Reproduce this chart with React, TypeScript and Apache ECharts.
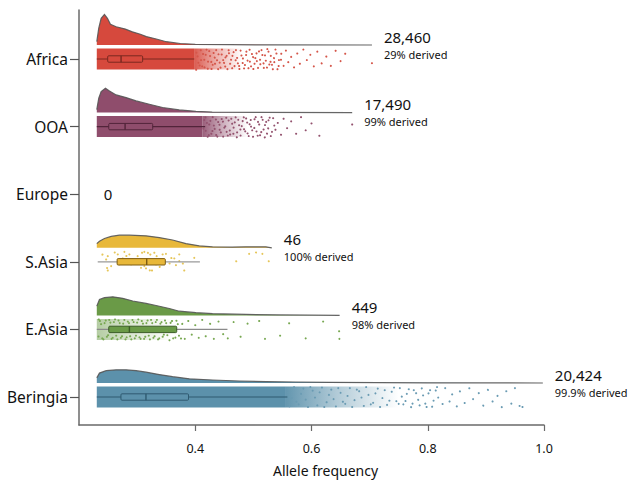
import React, { useEffect, useRef } from "react";
import * as echarts from "echarts";

// ---------- data ----------
const GROUP_NAMES = ["", "Beringia", "E.Asia", "S.Asia", "Europe", "OOA", "Africa"]; // index = y position
const Y_TICKS = [1, 2, 3, 4, 5, 6];
const X_TICKS = [0.4, 0.6, 0.8, 1.0];

const COUNTS = { africa: "28,460", ooa: "17,490", europe: "0", sasia: "46", easia: "449", beringia: "20,424" };
const DERIVED = { africa: "29% derived", ooa: "99% derived", sasia: "100% derived", easia: "98% derived", beringia: "99.9% derived" };

// box: [whisker low, Q1, median, Q3, whisker high]
const AFRICA_BOX = [0.2306, 0.2494, 0.2724, 0.3095, 0.3983];
const OOA_BOX = [0.2306, 0.2512, 0.2793, 0.3268, 0.417];
const SASIA_BOX = [0.2322, 0.2656, 0.3165, 0.3485, 0.408];
const EASIA_BOX = [0.2306, 0.2512, 0.2867, 0.3681, 0.4554];
const BERINGIA_BOX = [0.2306, 0.2722, 0.3152, 0.3884, 0.5585];

// density profiles [allele frequency, density]
const AFRICA_DENSITY = [[0.2306, 1.1], [0.234, 5.6], [0.2381, 8.9], [0.2438, 10.2], [0.2489, 8.9], [0.2541, 6.9], [0.2639, 6.1], [0.2798, 5.3], [0.2918, 4.4], [0.3056, 3.6], [0.3159, 2.8], [0.333, 2.0], [0.3502, 1.1], [0.3742, 0.5], [0.4, 0.23], [0.46, 0.1], [0.546, 0.03], [0.704, 0]];
const OOA_DENSITY = [[0.2306, 1.0], [0.234, 4.8], [0.2381, 7.0], [0.2455, 8.1], [0.2524, 7.2], [0.2639, 5.9], [0.281, 5.0], [0.2982, 3.9], [0.321, 2.8], [0.3439, 1.7], [0.3725, 0.9], [0.4012, 0.43], [0.4292, 0.17], [0.5116, 0.05], [0.67, 0]];
const SASIA_DENSITY = [[0.2306, 1.4], [0.2352, 2.2], [0.2438, 3.1], [0.2553, 3.8], [0.2695, 4.2], [0.2867, 4.2], [0.3154, 4.0], [0.3382, 3.4], [0.361, 2.6], [0.384, 1.4], [0.4069, 0.67], [0.4297, 0.33], [0.4635, 0.23], [0.487, 0.33], [0.5214, 0.33], [0.5317, 0]];
const EASIA_DENSITY = [[0.2306, 3.1], [0.2352, 5.3], [0.2438, 5.9], [0.2582, 6.2], [0.2753, 5.7], [0.2925, 4.8], [0.3154, 4.0], [0.3326, 3.3], [0.3554, 2.3], [0.3725, 1.4], [0.4012, 0.9], [0.4297, 0.57], [0.487, 0.33], [0.5442, 0.17], [0.6484, 0]];
const BERINGIA_DENSITY = [[0.2306, 1.7], [0.2352, 3.3], [0.2467, 4.1], [0.2639, 4.4], [0.281, 4.4], [0.2982, 4.1], [0.3154, 3.6], [0.3382, 2.8], [0.361, 2.1], [0.3899, 1.4], [0.4297, 1.0], [0.4755, 0.67], [0.5214, 0.43], [0.5729, 0.33], [0.63, 0.23], [0.7159, 0.11], [0.8, 0.06], [0.9, 0.03], [0.998, 0]];

// jitter cloud: [start, end of solid cloud, end of dense fade]
const AFRICA_CLOUD = [0.2306, 0.398, 0.48];
const OOA_CLOUD = [0.2306, 0.4126, 0.49];
const SASIA_CLOUD = [0.2306, 0.2306, 0.2306];
const EASIA_CLOUD = [0.2306, 0.2306, 0.36];
const BERINGIA_CLOUD = [0.2306, 0.556, 0.75];

// sparse points [allele frequency, jitter (-1 top .. 1 bottom)]
const AFRICA_POINTS = [[0.402, -0.6], [0.405, 0.3], [0.409, -0.9], [0.412, 0.7], [0.415, 0.0], [0.418, -0.4], [0.421, 0.85], [0.424, -0.75], [0.427, 0.2], [0.43, 0.55], [0.433, -0.2], [0.436, -0.85], [0.439, 0.9], [0.442, 0.35], [0.445, -0.5], [0.448, 0.1], [0.451, 0.65], [0.454, -0.3], [0.457, -0.9], [0.46, 0.45], [0.463, 0.8], [0.466, -0.65], [0.469, 0.05], [0.472, -0.1], [0.475, 0.6], [0.478, -0.8], [0.481, 0.3], [0.484, 0.9], [0.487, -0.45], [0.49, 0.15], [0.493, -0.95], [0.496, 0.7], [0.499, -0.25], [0.502, 0.45], [0.505, -0.6], [0.508, 0.85], [0.511, 0.0], [0.514, -0.85], [0.517, 0.35], [0.52, -0.35], [0.523, 0.75], [0.526, -0.7], [0.529, 0.2], [0.532, 0.55], [0.535, -0.15], [0.538, -0.9], [0.541, 0.9], [0.544, 0.1], [0.548, -0.5], [0.552, 0.65], [0.556, -0.8], [0.56, 0.3], [0.565, -0.2], [0.57, 0.8], [0.575, -0.6], [0.58, 0.45], [0.586, -0.9], [0.592, 0.1], [0.598, -0.4], [0.604, 0.7], [0.61, -0.7], [0.617, 0.35], [0.625, -0.3], [0.633, 0.6], [0.641, -0.85], [0.65, 0.2], [0.658, -0.5], [0.704, 0.4],
  [0.401, 0.95], [0.404, -0.25], [0.407, 0.55], [0.41, 0.1], [0.413, -0.55], [0.416, 0.8], [0.419, -0.95], [0.422, 0.25], [0.425, -0.35], [0.428, 0.95], [0.431, -0.65], [0.434, 0.45], [0.437, 0.05], [0.44, -0.45], [0.443, 0.75], [0.446, -0.9], [0.449, 0.3], [0.452, -0.15], [0.455, 0.9], [0.458, -0.55], [0.461, 0.0], [0.464, -0.3], [0.467, 0.6], [0.47, -0.85], [0.473, 0.35], [0.476, 0.95], [0.479, -0.4], [0.482, -0.05], [0.485, 0.5], [0.488, -0.7], [0.491, 0.8], [0.494, 0.25], [0.497, -0.55], [0.5, 0.95], [0.503, -0.15], [0.506, 0.2], [0.509, -0.8], [0.512, 0.5], [0.515, -0.45], [0.518, 0.85], [0.521, 0.1], [0.524, -0.95], [0.527, 0.45], [0.53, -0.3], [0.533, 0.9], [0.536, 0.3], [0.539, -0.6], [0.543, 0.6], [0.547, 0.0]];
const OOA_POINTS = [[0.415, -0.7], [0.418, 0.4], [0.421, 0.9], [0.424, -0.2], [0.427, 0.6], [0.43, -0.9], [0.433, 0.15], [0.436, 0.8], [0.439, -0.5], [0.442, 0.3], [0.445, -0.8], [0.448, 0.95], [0.451, -0.1], [0.454, 0.5], [0.457, -0.65], [0.46, 0.75], [0.463, -0.35], [0.466, 0.1], [0.469, -0.95], [0.472, 0.55], [0.475, -0.2], [0.478, 0.85], [0.481, -0.6], [0.484, 0.25], [0.487, -0.85], [0.49, 0.65], [0.493, -0.3], [0.496, 0.0], [0.499, 0.9], [0.502, -0.7], [0.505, 0.4], [0.508, -0.45], [0.511, 0.75], [0.514, -0.9], [0.517, 0.2], [0.52, -0.15], [0.523, 0.6], [0.526, -0.6], [0.53, 0.9], [0.534, -0.8], [0.538, 0.3], [0.542, -0.35], [0.547, 0.7], [0.552, -0.75], [0.558, 0.15], [0.565, -0.5], [0.573, 0.6], [0.582, -0.9], [0.59, 0.35], [0.6, -0.3], [0.613, 0.8], [0.67, -0.2],
  [0.414, 0.2], [0.417, -0.95], [0.42, -0.35], [0.423, 0.75], [0.426, -0.55], [0.429, 0.35], [0.432, -0.1], [0.435, -0.75], [0.438, 0.95], [0.441, -0.25], [0.444, 0.55], [0.447, -0.55], [0.45, 0.1], [0.453, -0.9], [0.456, 0.85], [0.459, 0.3], [0.462, -0.75], [0.465, 0.6], [0.468, -0.4], [0.471, 0.95], [0.474, -0.65], [0.477, 0.2], [0.48, -0.05], [0.483, -0.95], [0.486, 0.45], [0.489, -0.45], [0.492, 0.9], [0.495, -0.7], [0.498, 0.35], [0.501, 0.05], [0.504, -0.9], [0.507, 0.8], [0.51, -0.2], [0.513, 0.45], [0.516, -0.65], [0.519, 0.95], [0.522, -0.45], [0.525, 0.1], [0.528, -0.85], [0.532, 0.5], [0.536, -0.1]];
const SASIA_POINTS = [[0.2398, -0.76], [0.2478, 0.51], [0.2495, 0.83], [0.261, -0.95], [0.2667, -0.7], [0.2781, -0.95], [0.281, -0.63], [0.2867, -0.7], [0.3085, -0.86], [0.3124, -0.95], [0.3182, -0.92], [0.3222, -0.76], [0.3296, -0.86], [0.3336, -0.54], [0.3439, -0.7], [0.3496, -0.76], [0.3582, -0.44], [0.364, -0.32], [0.3725, -0.06], [0.3782, 0.1], [0.3153, 0.63], [0.321, 0.73], [0.3256, 0.83], [0.3382, 0.41], [0.3668, 0.32], [0.3811, 0.83], [0.3124, 0.41], [0.2495, -0.54], [0.2467, -0.22], [0.2553, 0.41], [0.2752, -0.32], [0.2924, -0.22], [0.2896, 0.25], [0.3067, 0.57], [0.3325, 0.25], [0.3439, -0.22], [0.3554, 0.1], [0.3983, -0.38], [0.4698, -0.13], [0.4927, -0.76], [0.5042, -0.95], [0.5155, -0.76], [0.5258, -0.13], [0.3725, -0.7], [0.2695, 0.25], [0.3009, -0.54]];
const EASIA_POINTS = [[0.236, -0.8], [0.24, 0.85], [0.244, -0.6], [0.248, 0.7], [0.252, -0.9], [0.256, 0.9], [0.26, -0.7], [0.264, 0.6], [0.268, -0.85], [0.272, 0.8], [0.276, -0.55], [0.28, 0.95], [0.284, -0.75], [0.288, 0.65], [0.292, -0.9], [0.296, 0.85], [0.3, -0.65], [0.304, 0.75], [0.308, -0.8], [0.312, 0.9], [0.316, -0.6], [0.32, 0.6], [0.324, -0.9], [0.328, 0.8], [0.332, -0.7], [0.336, 0.95], [0.34, -0.55], [0.344, 0.7], [0.348, -0.85], [0.352, 0.55], [0.357, -0.7], [0.362, 0.85], [0.367, -0.9], [0.372, 0.6], [0.377, -0.6], [0.382, 0.9], [0.388, -0.8], [0.394, 0.5], [0.4, -0.4], [0.406, 0.8], [0.412, -0.9], [0.418, 0.65], [0.425, -0.6], [0.432, 0.9], [0.44, -0.75], [0.448, 0.45], [0.456, 0.85], [0.466, -0.7], [0.478, 0.7], [0.49, -0.55], [0.51, -0.8], [0.52, 0.9], [0.546, 0.6], [0.561, -0.65], [0.59, 0.85], [0.62, -0.75], [0.647, 0.1], [0.648, 0.9],
  [0.233, 0.6], [0.234, -0.95], [0.238, -0.5], [0.242, 0.95], [0.246, -0.85], [0.25, 0.55], [0.254, -0.65], [0.258, 0.8], [0.262, -0.95], [0.266, 0.95], [0.27, -0.6], [0.274, 0.65], [0.278, -0.9], [0.282, 0.75], [0.286, -0.6], [0.29, 0.95], [0.294, -0.7], [0.298, 0.6], [0.302, -0.95], [0.306, 0.9], [0.31, -0.55], [0.314, 0.7], [0.318, -0.85], [0.322, 0.95], [0.326, -0.6], [0.33, 0.65], [0.334, -0.9], [0.338, 0.85], [0.342, -0.7], [0.346, 0.5], [0.35, -0.6], [0.355, 0.95], [0.36, -0.8], [0.365, 0.7], [0.37, -0.5], [0.375, 0.8]];
const BERINGIA_POINTS = [[0.562, 0.9], [0.57, -0.95], [0.578, 0.7], [0.586, -0.8], [0.594, 0.95], [0.602, -0.6], [0.61, 0.8], [0.618, -0.9], [0.626, 0.5], [0.634, -0.7], [0.642, 0.9], [0.65, -0.4], [0.658, 0.65], [0.666, -0.85], [0.674, 0.3], [0.682, -0.55], [0.69, 0.85], [0.698, -0.2], [0.706, 0.55], [0.714, -0.8], [0.722, 0.1], [0.73, 0.75], [0.738, -0.5], [0.746, 0.4], [0.752, -0.85], [0.758, 0.7], [0.764, -0.3], [0.771, 0.9], [0.776, -0.65], [0.783, 0.2], [0.789, -0.9], [0.795, 0.55], [0.801, -0.4], [0.807, 0.85], [0.813, -0.7], [0.818, 0.05], [0.825, 0.6], [0.83, -0.85], [0.837, 0.35], [0.842, -0.25], [0.849, 0.8], [0.855, -0.6], [0.863, 0.5], [0.871, -0.9], [0.878, 0.2], [0.887, -0.45], [0.895, 0.75], [0.903, -0.75], [0.911, 0.35], [0.919, -0.2], [0.927, 0.9], [0.935, -0.6], [0.943, 0.55], [0.95, -0.85], [0.958, 0.85], [0.963, 0.95],
  [0.566, 0.1], [0.574, 0.45], [0.582, -0.3], [0.59, 0.25], [0.598, -0.95], [0.606, 0.05], [0.614, -0.45], [0.622, 0.95], [0.63, -0.2], [0.638, 0.2], [0.646, -0.85], [0.654, 0.45], [0.662, -0.1], [0.67, 0.95], [0.678, -0.7], [0.686, 0.05], [0.694, -0.95], [0.702, 0.7], [0.71, -0.35], [0.718, 0.95], [0.726, -0.65], [0.734, 0.35], [0.742, -0.9], [0.75, 0.65], [0.755, -0.1], [0.761, 0.3], [0.767, -0.8], [0.773, 0.55], [0.779, -0.45], [0.786, 0.8], [0.792, -0.15], [0.798, 0.95], [0.804, -0.65], [0.81, 0.35], [0.816, -0.95]];

// ---------- styles ----------
const FONT = '"Noto Sans", "Open Sans", sans-serif';
const DENSITY_PX = 3;
const BASE_GAP_PX = 14;
const BAND_HALF_PX = 10.5;
const BOX_HALF_PX = 3.2;
const LABEL_DX = 12;

type G = {
  y: number; rgb: number[]; dark: string; point: string; whisker: string;
  box: number[]; density: number[][]; cloud: number[]; fade0: number; points: number[][];
  count: string; derived: string;
};

const GROUPS: G[] = [
  { y: 6, rgb: [214, 73, 61], dark: "#7a2820", point: "#d5564a", whisker: "#7a2820", box: AFRICA_BOX, density: AFRICA_DENSITY, cloud: AFRICA_CLOUD, fade0: 0.9, points: AFRICA_POINTS, count: COUNTS.africa, derived: DERIVED.africa },
  { y: 5, rgb: [143, 77, 108], dark: "#52243a", point: "#93526e", whisker: "#52243a", box: OOA_BOX, density: OOA_DENSITY, cloud: OOA_CLOUD, fade0: 0.9, points: OOA_POINTS, count: COUNTS.ooa, derived: DERIVED.ooa },
  { y: 3, rgb: [232, 184, 58], dark: "#7d5c12", point: "#e6c65a", whisker: "#9a9a9a", box: SASIA_BOX, density: SASIA_DENSITY, cloud: SASIA_CLOUD, fade0: 0, points: SASIA_POINTS, count: COUNTS.sasia, derived: DERIVED.sasia },
  { y: 2, rgb: [106, 154, 71], dark: "#3a5c26", point: "#78a852", whisker: "#8a8a8a", box: EASIA_BOX, density: EASIA_DENSITY, cloud: EASIA_CLOUD, fade0: 0.5, points: EASIA_POINTS, count: COUNTS.easia, derived: DERIVED.easia },
  { y: 1, rgb: [92, 145, 171], dark: "#2f5a70", point: "#6a9bb3", whisker: "#2f5a70", box: BERINGIA_BOX, density: BERINGIA_DENSITY, cloud: BERINGIA_CLOUD, fade0: 0.95, points: BERINGIA_POINTS, count: COUNTS.beringia, derived: DERIVED.beringia },
];

const rgba = (c: number[], a: number) => `rgba(${c[0]},${c[1]},${c[2]},${a})`;

function structureSeries(g: G) {
  return {
    type: "custom",
    silent: true,
    clip: false,
    data: [[g.box[0], g.y]],
    encode: { x: 0, y: 1 },
    renderItem: (_p: any, api: any) => {
      const toX = (f: number) => api.coord([f, g.y])[0];
      const cy = api.coord([g.box[0], g.y])[1];
      const base = cy - BASE_GAP_PX;
      const top = g.density.map(([f, d]) => [toX(f), base - d * DENSITY_PX]);
      const poly = [[top[0][0], base], ...top, [top[top.length - 1][0], base]];
      const children: any[] = [
        { type: "polygon", shape: { points: poly }, style: { fill: rgba(g.rgb, 1) } },
        { type: "polyline", shape: { points: top }, style: { stroke: "rgba(85,85,85,0.9)", lineWidth: 1.2, fill: null } },
      ];
      const [c0, c1, c2] = g.cloud;
      if (c1 > c0) {
        children.push({ type: "rect", shape: { x: toX(c0), y: cy - BAND_HALF_PX, width: toX(c1) - toX(c0), height: 2 * BAND_HALF_PX }, style: { fill: rgba(g.rgb, 1) } });
      }
      if (c2 > c1 && g.fade0 > 0) {
        children.push({
          type: "rect",
          shape: { x: toX(c1), y: cy - BAND_HALF_PX, width: toX(c2) - toX(c1), height: 2 * BAND_HALF_PX },
          style: {
            fill: new echarts.graphic.LinearGradient(0, 0, 1, 0, [
              { offset: 0, color: rgba(g.rgb, g.fade0) },
              { offset: 0.45, color: rgba(g.rgb, g.fade0 * 0.5) },
              { offset: 1, color: rgba(g.rgb, 0) },
            ]),
          },
        });
      }
      return { type: "group", children };
    },
  };
}

function pointSeries(g: G) {
  return {
    type: "custom",
    silent: true,
    data: g.points.map(([f, o]) => [f, g.y, o]),
    encode: { x: 0, y: 1 },
    renderItem: (_p: any, api: any) => {
      const p = api.coord([api.value(0), api.value(1)]);
      return { type: "circle", shape: { cx: p[0], cy: p[1] + api.value(2) * BAND_HALF_PX, r: 1.05 }, style: { fill: g.point } };
    },
  };
}

function boxSeries(g: G) {
  return {
    type: "custom",
    silent: true,
    clip: false,
    data: [[g.box[2], g.y]],
    encode: { x: 0, y: 1 },
    renderItem: (_p: any, api: any) => {
      const toX = (f: number) => api.coord([f, g.y])[0];
      const cy = api.coord([g.box[0], g.y])[1];
      const [lo, q1, med, q3, hi] = g.box.map(toX);
      const endX = toX(g.density[g.density.length - 1][0]) + LABEL_DX;
      return {
        type: "group",
        children: [
          { type: "line", shape: { x1: lo, y1: cy, x2: hi, y2: cy }, style: { stroke: g.whisker, lineWidth: 1.2 } },
          { type: "rect", shape: { x: q1, y: cy - BOX_HALF_PX, width: q3 - q1, height: 2 * BOX_HALF_PX, r: 1 }, style: { fill: rgba(g.rgb, 1), stroke: g.dark, lineWidth: 1 } },
          { type: "line", shape: { x1: med, y1: cy - BOX_HALF_PX, x2: med, y2: cy + BOX_HALF_PX }, style: { stroke: g.dark, lineWidth: 1.4 } },
          { type: "text", style: { x: endX, y: cy - 22.5, text: g.count, fontSize: 15, lineHeight: 15, fontFamily: FONT, fill: "#111", align: "left", verticalAlign: "middle" } },
          { type: "text", style: { x: endX, y: cy - 5, text: g.derived, fontSize: 11, lineHeight: 11, fontFamily: FONT, fill: "#111", align: "left", verticalAlign: "middle" } },
        ],
      };
    },
  };
}

const europeSeries = {
  type: "custom",
  silent: true,
  clip: false,
  data: [[AFRICA_BOX[0], 4]],
  encode: { x: 0, y: 1 },
  renderItem: (_p: any, api: any) => {
    const p = api.coord([api.value(0), api.value(1)]);
    return { type: "text", style: { x: p[0] + 7, y: p[1], text: COUNTS.europe, fontSize: 15, fontFamily: FONT, fill: "#111", align: "left", verticalAlign: "middle" } };
  },
};

export default function App() {
  const ref = useRef<HTMLDivElement>(null);
  useEffect(() => {
    if (!ref.current) return;
    const chart = echarts.init(ref.current, null, { renderer: "svg" });
    const series: any[] = [];
    GROUPS.forEach((g) => series.push(structureSeries(g)));
    GROUPS.forEach((g) => series.push(pointSeries(g)));
    GROUPS.forEach((g) => series.push(boxSeries(g)));
    series.push(europeSeries);
    chart.setOption({
      animation: false,
      backgroundColor: "#ffffff",
      textStyle: { fontFamily: FONT },
      grid: { left: 79, right: 88, top: 10, bottom: 58, containLabel: false, outerBoundsMode: "none" },
      xAxis: {
        type: "value",
        min: 0.2,
        max: 1.0,
        name: "Allele frequency",
        nameLocation: "middle",
        nameGap: 38,
        nameTextStyle: { fontSize: 14, color: "#111", fontFamily: FONT, padding: [0, 0, 0, 28] },
        axisLine: { show: true, lineStyle: { color: "#6a6a6a", width: 1.5 } },
        axisTick: { show: true, customValues: X_TICKS, length: 6, lineStyle: { color: "#6a6a6a", width: 1.2 } },
        axisLabel: { customValues: X_TICKS, formatter: (v: number) => v.toFixed(1), fontSize: 12.5, color: "#111", margin: 17, fontFamily: FONT },
        splitLine: { show: false },
      },
      yAxis: {
        type: "value",
        min: 0.586,
        max: 6.725,
        axisLine: { show: true, lineStyle: { color: "#6a6a6a", width: 1.5 } },
        axisTick: { show: true, customValues: Y_TICKS, length: 9, lineStyle: { color: "#555", width: 1.2 } },
        axisLabel: { customValues: Y_TICKS, formatter: (v: number) => GROUP_NAMES[Math.round(v)], fontSize: 15.5, color: "#111", margin: 11, fontFamily: FONT },
        splitLine: { show: false },
      },
      series,
    });
    return () => chart.dispose();
  }, []);
  return <div ref={ref} style={{ position: "fixed", left: 0, top: 0, width: 632, height: 483 }} />;
}
